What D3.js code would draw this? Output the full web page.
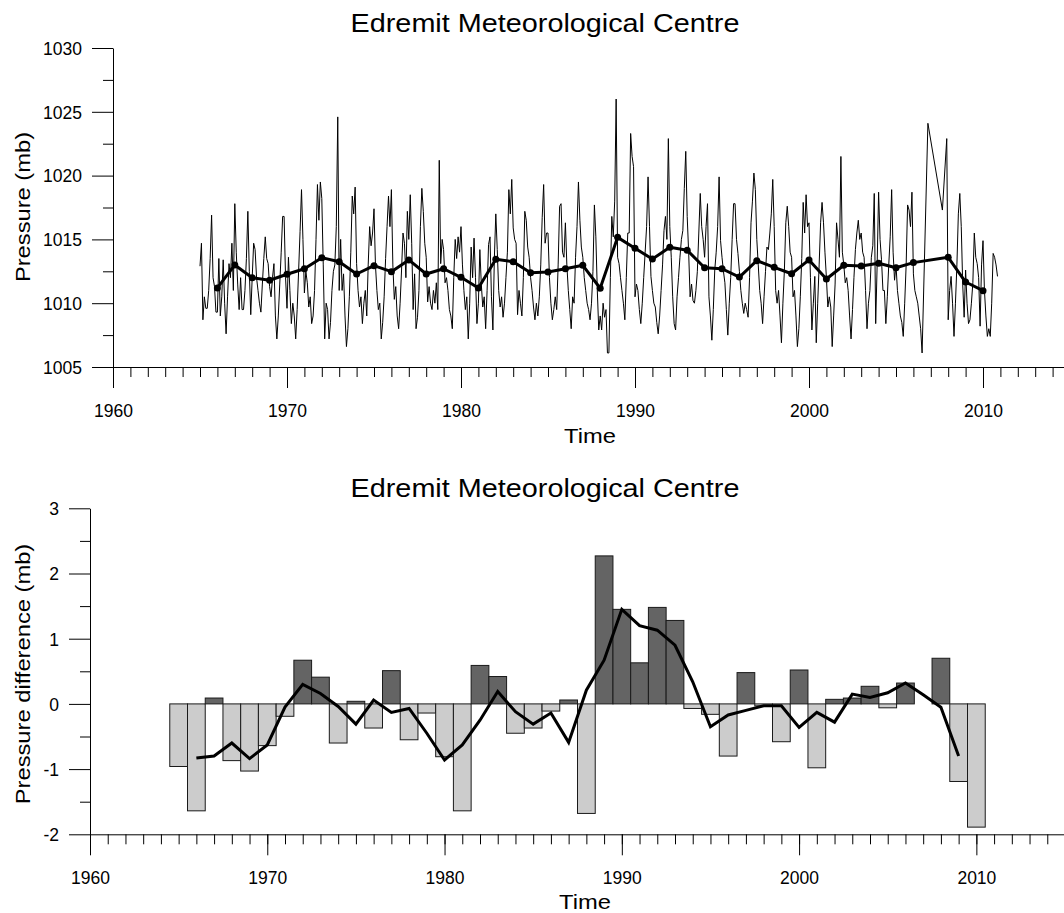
<!DOCTYPE html>
<html>
<head>
<meta charset="utf-8">
<script src="https://cdn.jsdelivr.net/npm/d3@7"></script>
<style>
  html, body { margin: 0; padding: 0; background: #fff; }
  svg { display: block; }
  text { font-family: "Liberation Sans", Arial, sans-serif; fill: #000; }
</style>
</head>
<body>
<svg id="chart" width="1064" height="913"></svg>
<script>
// ---------------- DATA ----------------
const chartTitle = "Edremit Meteorological Centre";
const monthlyStartYear = 1965;
// Monthly mean pressure (mb), one row per year 1965..2010 (Jan..Dec), null = missing
const monthlyPressure = [
  [1012.9,1014.7,1008.7,1010.5,1009.6,1009.6,1011.0,1013.5,1016.9,1012.0,1011.3,1009.3],
  [1009.3,1013.5,1009.0,1010.5,1013.4,1010.0,1007.6,1010.5,1013.1,1012.0,1014.7,1011.0],
  [1017.8,1014.0,1011.5,1009.5,1012.0,1009.5,1009.5,1011.0,1013.5,1017.2,1012.5,1009.1],
  [1012.0,1014.7,1014.2,1012.0,1011.0,1010.0,1009.3,1011.5,1013.5,1015.2,1013.5,1013.1],
  [1011.3,1010.5,1012.0,1013.1,1009.0,1007.2,1009.0,1011.5,1014.0,1016.8,1016.8,1012.0],
  [1009.6,1013.6,1011.0,1008.4,1010.0,1009.0,1007.2,1009.5,1012.5,1015.6,1018.9,1015.0],
  [1010.8,1012.5,1011.6,1009.7,1010.5,1008.4,1009.0,1011.0,1015.0,1019.3,1016.5,1019.5],
  [1018.2,1013.0,1007.2,1010.0,1009.5,1007.2,1008.5,1011.0,1012.5,1013.0,1016.0,1024.6],
  [1011.0,1015.0,1011.0,1012.3,1009.0,1006.6,1008.0,1010.5,1014.0,1018.4,1017.0,1019.1],
  [1013.1,1011.0,1009.7,1010.5,1008.4,1010.0,1011.0,1009.0,1013.0,1016.0,1014.5,1015.5],
  [1017.4,1013.0,1011.0,1009.5,1010.0,1007.2,1008.5,1010.5,1013.5,1016.0,1018.4,1016.0],
  [1018.9,1013.0,1010.3,1011.3,1009.0,1008.0,1010.0,1012.6,1015.5,1014.7,1012.0,1017.2],
  [1015.0,1018.5,1014.7,1009.5,1012.3,1008.0,1008.9,1011.0,1016.0,1019.0,1017.2,1014.7],
  [1013.6,1010.1,1011.3,1010.0,1009.5,1011.0,1010.0,1011.6,1009.5,1021.2,1013.1,1015.0],
  [1014.2,1011.6,1012.0,1011.0,1009.5,1009.0,1008.0,1012.0,1015.0,1013.5,1015.2,1014.0],
  [1016.0,1013.0,1011.0,1009.5,1010.5,1007.2,1010.0,1014.4,1012.0,1015.1,1012.0,1008.4],
  [1010.0,1014.2,1011.5,1009.7,1010.5,1008.0,1011.0,1014.6,1015.2,1010.5,1007.9,1013.5],
  [1017.0,1014.2,1011.0,1009.7,1010.5,1008.9,1010.0,1012.0,1014.0,1018.9,1017.0,1019.7],
  [1015.9,1015.0,1014.7,1009.1,1011.0,1010.0,1009.0,1012.0,1017.2,1016.5,1014.4,1013.6],
  [1012.0,1011.0,1009.7,1008.7,1010.0,1009.0,1010.5,1013.0,1016.7,1019.3,1014.7,1015.5],
  [1015.5,1012.0,1010.0,1008.7,1009.5,1010.5,1009.5,1013.0,1017.6,1017.8,1014.0,1013.6],
  [1016.3,1013.0,1011.0,1009.5,1008.0,1010.5,1010.0,1013.6,1016.0,1019.5,1016.5,1014.4],
  [1013.6,1012.0,1011.0,1010.0,1009.5,1008.7,1010.0,1012.5,1017.7,1015.2,1011.0,1007.9],
  [1009.0,1007.9,1010.0,1008.9,1009.5,1006.1,1006.1,1012.0,1016.8,1015.2,1018.0,1026.0],
  [1013.6,1013.1,1012.0,1011.0,1010.0,1008.7,1012.0,1015.5,1015.5,1023.3,1021.5,1020.7],
  [1010.5,1011.5,1011.0,1009.5,1008.4,1010.0,1012.0,1014.0,1016.0,1019.9,1016.0,1012.1],
  [1011.0,1010.0,1009.7,1008.5,1007.6,1009.0,1011.0,1013.0,1015.7,1016.8,1015.0,1022.9],
  [1016.0,1013.6,1010.5,1008.4,1007.9,1010.5,1012.0,1013.6,1015.0,1015.7,1019.0,1021.9],
  [1016.8,1014.0,1010.5,1011.5,1010.2,1010.0,1011.0,1012.5,1015.5,1018.6,1016.0,1015.0],
  [1013.6,1016.0,1017.8,1010.5,1009.0,1007.1,1009.5,1012.6,1014.0,1016.0,1019.9,1014.9],
  [1013.6,1012.5,1011.6,1009.5,1007.5,1010.0,1012.0,1015.0,1017.8,1017.8,1015.0,1013.9],
  [1012.5,1011.0,1010.0,1009.2,1010.0,1009.5,1008.9,1012.0,1016.3,1018.0,1020.2,1018.9],
  [1015.0,1013.0,1011.0,1010.0,1008.4,1010.5,1012.5,1014.4,1014.2,1015.5,1017.0,1019.7],
  [1016.0,1011.0,1010.0,1011.0,1009.0,1006.9,1010.0,1012.5,1016.3,1017.6,1016.0,1014.0],
  [1013.6,1010.5,1011.0,1009.0,1006.6,1008.0,1010.5,1013.5,1017.9,1015.5,1018.5,1016.0],
  [1016.3,1012.0,1007.9,1010.0,1012.1,1006.9,1010.0,1013.0,1016.3,1017.9,1016.3,1014.0],
  [1012.0,1009.7,1010.5,1009.7,1006.6,1009.0,1011.5,1016.3,1015.0,1013.6,1021.5,1014.0],
  [1013.0,1011.6,1012.0,1011.0,1009.0,1007.2,1009.5,1012.0,1014.2,1015.5,1016.5,1015.0],
  [1015.5,1014.0,1013.6,1011.0,1008.0,1010.0,1011.0,1013.6,1014.5,1018.6,1008.4,1013.0],
  [1018.7,1015.0,1013.4,1011.0,1011.0,1008.4,1010.5,1013.0,1015.2,1018.9,1014.0,1011.8],
  [1013.0,1011.0,1010.0,1009.0,1008.5,1007.4,1010.0,1013.0,1017.7,1017.3,1016.0,1018.7],
  [1012.3,1011.0,1010.5,1010.0,1009.0,1008.0,1006.1,null,null,null,1024.1,null],
  [null,null,null,null,null,null,null,null,1017.3,null,null,1022.9],
  [1008.7,1011.0,1012.1,1010.0,1007.4,1010.0,1013.0,1017.0,1018.6,1016.0,1011.5,1008.9],
  [1012.6,1010.0,1008.4,1008.7,1010.0,1011.6,1015.5,1013.6,1013.1,1012.0,1008.2,1013.0],
  [1014.9,1011.0,1009.0,1007.4,1008.0,1007.4,1010.0,1013.9,1013.6,1013.0,1012.1,null]
];
// Annual mean pressure (mb)
const annualYears = [1966,1967,1968,1969,1970,1971,1972,1973,1974,1975,1976,1977,1978,1979,1980,1981,1982,1983,1984,1985,1986,1987,1988,1989,1990,1991,1992,1993,1994,1995,1996,1997,1998,1999,2000,2001,2002,2003,2004,2005,2006,2008,2009,2010];
const annualMeans = [1011.2,1013.0,1012.0,1011.8,1012.27,1012.7,1013.57,1013.25,1012.29,1012.94,1012.47,1013.39,1012.29,1012.7,1012.03,1011.19,1013.44,1013.25,1012.39,1012.45,1012.7,1012.97,1011.17,1015.16,1014.3,1013.46,1014.38,1014.15,1012.78,1012.7,1012.05,1013.33,1012.81,1012.31,1013.39,1011.9,1012.97,1012.92,1013.13,1012.78,1013.18,1013.6,1011.66,1010.98];
// Annual pressure difference (mb), 1965..2010
const diffYears = d3.range(1965, 2011);
const diffValues = [-0.96,-1.64,0.09,-0.87,-1.03,-0.64,-0.19,0.67,0.41,-0.60,0.04,-0.37,0.51,-0.55,-0.14,-0.81,-1.64,0.59,0.42,-0.45,-0.37,-0.11,0.06,-1.68,2.27,1.45,0.63,1.48,1.28,-0.07,-0.16,-0.80,0.48,-0.03,-0.58,0.52,-0.98,0.07,0.09,0.27,-0.06,0.32,0,0.70,-1.19,-1.89];
// Smoothed difference curve, 1966..2009
const smoothYears = d3.range(1966, 2010);
const smoothValues = [-0.83,-0.80,-0.60,-0.84,-0.63,-0.05,0.30,0.16,-0.04,-0.31,0.06,-0.13,-0.07,-0.45,-0.86,-0.63,-0.25,0.19,-0.12,-0.31,-0.14,-0.59,0.21,0.67,1.45,1.20,1.13,0.90,0.34,-0.35,-0.17,-0.10,-0.03,-0.03,-0.36,-0.13,-0.28,0.15,0.10,0.17,0.32,0.14,-0.05,-0.80];
const xTickYears = d3.range(1960, 2016);
const xLabelYears = [1960,1970,1980,1990,2000,2010];
const topYTicks = [1005,1010,1015,1020,1025,1030];
const topYMinor = [1007.5,1012.5,1017.5,1022.5,1027.5];
const botYTicks = [-2,-1,0,1,2,3];
const botYMinor = [-1.5,-0.5,0.5,1.5,2.5];

// ---------------- DRAW ----------------
const svg = d3.select("#chart");
const SX = 1.13; // horizontal stretch of the original lettering
const plainFmt = d => String(d); // hyphen-minus like the original

function stretchedText(g, x, y, str, size, anchor, rotate) {
  return g.append("text")
    .attr("transform", `translate(${x},${y})` + (rotate ? ` rotate(${rotate})` : "") + ` scale(${SX},1)`)
    .attr("text-anchor", anchor)
    .attr("font-size", size)
    .text(str);
}

function drawAxes(g, x, y, cfg) {
  const [x0] = x.range();
  const yBase = y.range()[0];
  g.append("g").attr("transform", `translate(0,${yBase})`)
    .call(d3.axisBottom(x).tickValues(xTickYears).tickSize(10).tickFormat("").tickSizeOuter(0))
    .call(a => a.selectAll("line,path").attr("stroke", "#000"));
  const mj = g.append("g").attr("transform", `translate(0,${yBase})`)
    .call(d3.axisBottom(x).tickValues(xLabelYears).tickSize(21).tickFormat(plainFmt).tickSizeOuter(0));
  mj.select(".domain").remove();
  mj.selectAll("line").attr("stroke", "#000");
  mj.selectAll("text").attr("font-size", 17.5).attr("font-family", "Liberation Sans, Arial, sans-serif")
    .attr("y", 50).attr("dy", 0).attr("fill", "#000");
  g.append("g").attr("transform", `translate(${x0},0)`)
    .call(d3.axisLeft(y).tickValues(cfg.minor).tickSize(10).tickFormat("").tickSizeOuter(0))
    .call(a => a.selectAll("line,path").attr("stroke", "#000"));
  const ym = g.append("g").attr("transform", `translate(${x0},0)`)
    .call(d3.axisLeft(y).tickValues(cfg.major).tickSize(21).tickFormat(plainFmt).tickSizeOuter(0));
  ym.select(".domain").remove();
  ym.selectAll("line").attr("stroke", "#000");
  ym.selectAll("text").attr("font-size", 17.5).attr("font-family", "Liberation Sans, Arial, sans-serif")
    .attr("x", -31).attr("dy", "0.36em").attr("fill", "#000");
}

// ===== Top chart =====
const gTop = svg.append("g");
const x1 = d3.scaleLinear().domain([1960, 2015]).range([113, 1070]);
const y1 = d3.scaleLinear().domain([1005, 1030]).range([367, 48]);

const monthlyPts = [];
monthlyPressure.forEach((row, i) => row.forEach((v, m) => {
  if (v !== null) monthlyPts.push({ t: monthlyStartYear + i + m / 12, v });
}));
gTop.append("path").datum(monthlyPts)
  .attr("fill", "none").attr("stroke", "#000").attr("stroke-width", 1)
  .attr("d", d3.line().x(d => x1(d.t)).y(d => y1(d.v)));

const annualPts = annualYears.map((yr, i) => ({ yr, v: annualMeans[i] }));
gTop.append("path").datum(annualPts)
  .attr("fill", "none").attr("stroke", "#000").attr("stroke-width", 3).attr("stroke-linejoin", "round")
  .attr("d", d3.line().x(d => x1(d.yr)).y(d => y1(d.v)));
gTop.selectAll("circle").data(annualPts).join("circle")
  .attr("cx", d => x1(d.yr)).attr("cy", d => y1(d.v)).attr("r", 3.5).attr("fill", "#000");

drawAxes(gTop, x1, y1, { major: topYTicks, minor: topYMinor });
stretchedText(gTop, 545, 31.5, chartTitle, 25.5, "middle");
stretchedText(gTop, 590, 443, "Time", 21, "middle");
stretchedText(gTop, 30, 207, "Pressure (mb)", 21, "middle", -90);

// ===== Bottom chart =====
const gBot = svg.append("g");
const x2 = d3.scaleLinear().domain([1960, 2015]).range([90, 1065]);
const y2 = d3.scaleLinear().domain([-2, 3]).range([834.3, 508.3]);

const bars = diffYears.map((yr, i) => ({ yr, v: diffValues[i] }));
gBot.selectAll("rect").data(bars).join("rect")
  .attr("x", d => x2(d.yr - 0.5))
  .attr("width", d => x2(d.yr + 0.5) - x2(d.yr - 0.5))
  .attr("y", d => y2(Math.max(0, d.v)))
  .attr("height", d => Math.abs(y2(d.v) - y2(0)))
  .attr("fill", d => d.v > 0 ? "#646464" : "#cccccc")
  .attr("stroke", "#1a1a1a").attr("stroke-width", 1);

const smoothPts = smoothYears.map((yr, i) => ({ yr, v: smoothValues[i] }));
gBot.append("path").datum(smoothPts)
  .attr("fill", "none").attr("stroke", "#000").attr("stroke-width", 3).attr("stroke-linejoin", "miter")
  .attr("d", d3.line().x(d => x2(d.yr)).y(d => y2(d.v)));

drawAxes(gBot, x2, y2, { major: botYTicks, minor: botYMinor });
stretchedText(gBot, 545, 497, chartTitle, 25.5, "middle");
stretchedText(gBot, 585, 909, "Time", 21, "middle");
stretchedText(gBot, 30, 674, "Pressure difference (mb)", 21, "middle", -90);
</script>
</body>
</html>
